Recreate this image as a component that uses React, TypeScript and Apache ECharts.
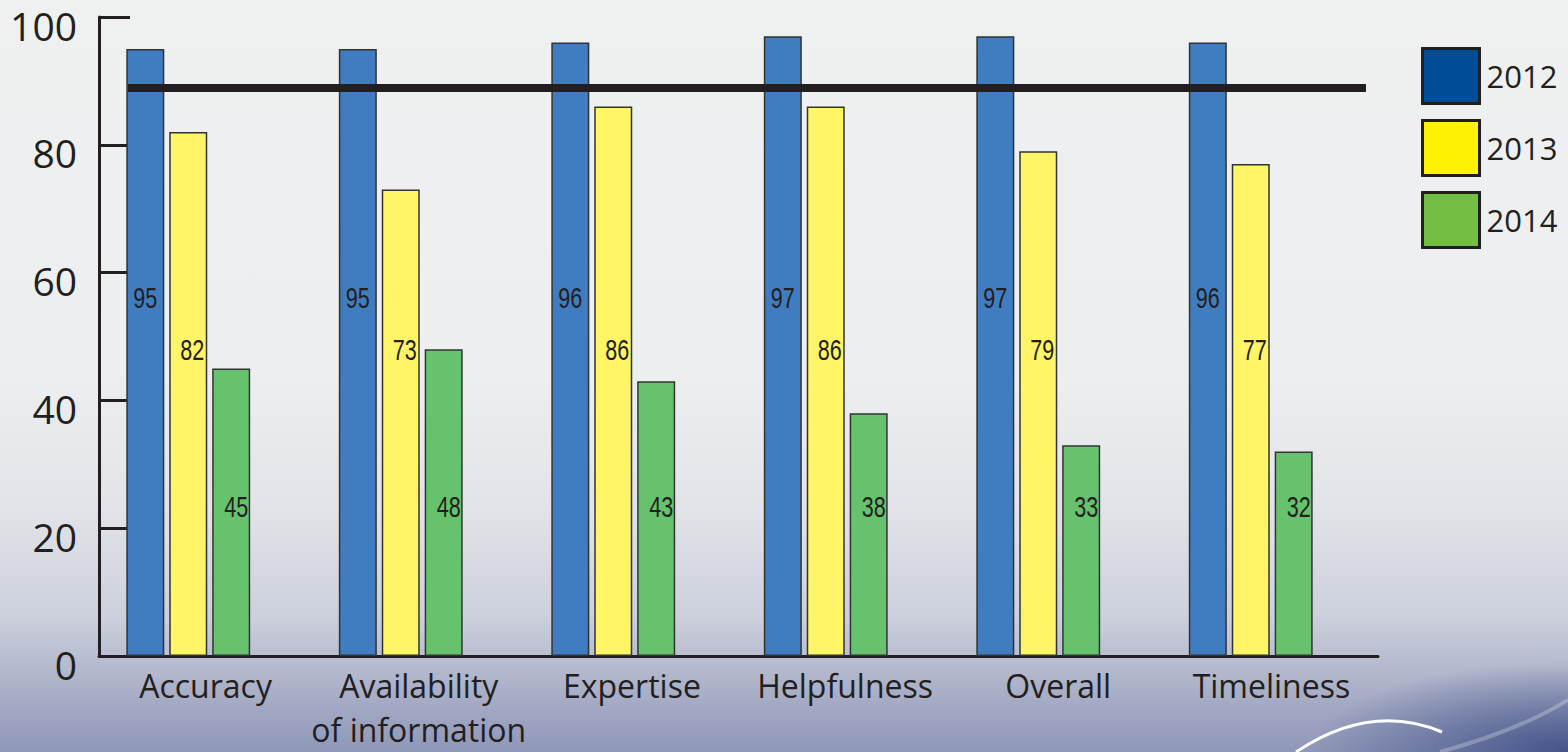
import React, { useEffect, useRef } from "react";
import * as echarts from "echarts";

const categories = ["Accuracy", "Availability\nof information", "Expertise", "Helpfulness", "Overall", "Timeliness"];
const years = ["2012", "2013", "2014"];
const values2012 = [95, 95, 96, 97, 97, 96];
const values2013 = [82, 73, 86, 86, 79, 77];
const values2014 = [45, 48, 43, 38, 33, 32];
const targetValue = 89;
const yTicks = { min: 0, max: 100, interval: 20 };

const barColors = ["#3f7cc0", "#fff566", "#67c26e"];
const legendColors = ["#004c97", "#fff200", "#72bf44"];
// label vertical levels (layout, in axis units)
const labelLevels = [56, 48, 23.3];
const labelOffsets = [0, 4, 5];
const barShift = [-43, 0, 43];

const INK = "#231f20";

export default function App() {
  const ref = useRef<HTMLDivElement>(null);
  useEffect(() => {
    if (!ref.current) return;
    const chart = echarts.init(ref.current, null, { renderer: "svg" });
    const series: any[] = [];
    const allValues = [values2012, values2013, values2014];
    allValues.forEach((vals, i) => {
      series.push({
        name: years[i],
        type: "bar",
        xAxisIndex: 1,
        yAxisIndex: 1,
        data: vals,
        barWidth: 38,
        barGap: "13%",
        itemStyle: { color: barColors[i], borderColor: "#333", borderWidth: 1.5 },
        z: 2,
      });
    });
    const labelData: any[] = [];
    allValues.forEach((vals, i) => {
      vals.forEach((v, k) => labelData.push([k, labelLevels[i], v, i]));
    });
    series.push({
      name: "labels",
      type: "custom",
      xAxisIndex: 1,
      yAxisIndex: 1,
      silent: true,
      z: 4,
      data: labelData,
      renderItem: (params: any, api: any) => {
        const c = api.coord([api.value(0), api.value(1)]);
        const si = api.value(3);
        return {
          type: "text",
          x: c[0] + barShift[si] + labelOffsets[si],
          y: c[1],
          scaleX: 0.72,
          style: {
            text: String(api.value(2)),
            fontFamily: "'Liberation Sans', Arial, sans-serif",
            fontSize: 30,
            fill: INK,
            align: "center",
            verticalAlign: "middle",
          },
        };
      },
    });
    series.push({
      name: "target",
      type: "line",
      xAxisIndex: 2,
      yAxisIndex: 2,
      data: [],
      z: 6,
      markLine: {
        silent: true,
        symbol: "none",
        label: { show: false },
        lineStyle: { color: INK, width: 8, type: "solid" },
        data: [{ yAxis: targetValue }],
      },
    });

    const gridBase = { top: 17, bottom: 96, containLabel: false, outerBoundsMode: "none" };
    chart.setOption({
      animation: false,
      grid: [
        { ...gridBase, left: 99, right: 190 },
        { ...gridBase, left: 82, right: 211 },
        { ...gridBase, left: 128, right: 202 },
      ],
      legend: {
        orient: "vertical",
        left: 1421,
        top: 47,
        padding: 0,
        itemWidth: 57,
        itemHeight: 55,
        itemGap: 14,
        icon: "rect",
        textStyle: { fontFamily: "'Open Sans', sans-serif", fontSize: 31, color: INK, padding: [0, 0, 0, 2] },
        itemStyle: { borderColor: INK, borderWidth: 3 },
        data: years.map((y, i) => ({ name: y, itemStyle: { color: legendColors[i], borderColor: INK, borderWidth: 3 } })),
      },
      xAxis: [
        {
          type: "category",
          gridIndex: 0,
          data: categories,
          axisLine: { lineStyle: { color: INK, width: 3 } },
          axisTick: { inside: true, length: 15, lineStyle: { color: INK, width: 3 } },
          axisLabel: {
            margin: 7,
            fontFamily: "'Open Sans', sans-serif",
            fontSize: 32,
            lineHeight: 44,
            color: INK,
            interval: 0,
          },
        },
        { type: "category", gridIndex: 1, data: categories, show: false },
        { type: "value", gridIndex: 2, min: 0, max: 1, show: false },
      ],
      yAxis: [
        {
          type: "value",
          gridIndex: 0,
          min: yTicks.min,
          max: yTicks.max,
          interval: yTicks.interval,
          splitLine: { show: false },
          axisLine: { show: true, lineStyle: { color: INK, width: 3 } },
          axisTick: { show: true, inside: true, length: 31, lineStyle: { color: INK, width: 3 } },
          axisLabel: {
            margin: 22,
            formatter: (v: number) => "{t|" + v + "}",
            rich: {
              t: {
                fontFamily: "'Open Sans', sans-serif",
                fontSize: 39,
                lineHeight: 44,
                color: INK,
                padding: [16, 0, 0, 0],
              },
            },
          },
        },
        { type: "value", gridIndex: 1, min: yTicks.min, max: yTicks.max, show: false },
        { type: "value", gridIndex: 2, min: yTicks.min, max: yTicks.max, show: false },
      ],
      graphic: [
        {
          type: "bezierCurve",
          silent: true,
          z: 0,
          shape: { x1: 1296, y1: 752, cpx1: 1371, cpy1: 702, x2: 1442, y2: 732 },
          style: { stroke: "#ffffff", lineWidth: 3, fill: "none" },
        },
        {
          type: "bezierCurve",
          silent: true,
          z: 0,
          shape: { x1: 1440, y1: 752, cpx1: 1520, cpy1: 730, x2: 1568, y2: 700 },
          style: { stroke: "rgba(255,255,255,0.25)", lineWidth: 4, fill: "none" },
        },
      ],
      series,
    });
    return () => chart.dispose();
  }, []);
  return (
    <div
      style={{
        position: "fixed",
        left: 0,
        top: 0,
        width: 1568,
        height: 752,
        background:
          "radial-gradient(ellipse 260px 90px at 100% 100%, rgba(55,72,130,0.85) 0%, rgba(55,72,130,0) 100%), linear-gradient(180deg, #eff0f0 0%, #edeef0 50%, #e2e3e8 68%, #ccd0dc 82%, #a9afc7 92%, #8f97b8 100%)",
      }}
    >
      <div ref={ref} style={{ width: 1568, height: 752 }} />
    </div>
  );
}
